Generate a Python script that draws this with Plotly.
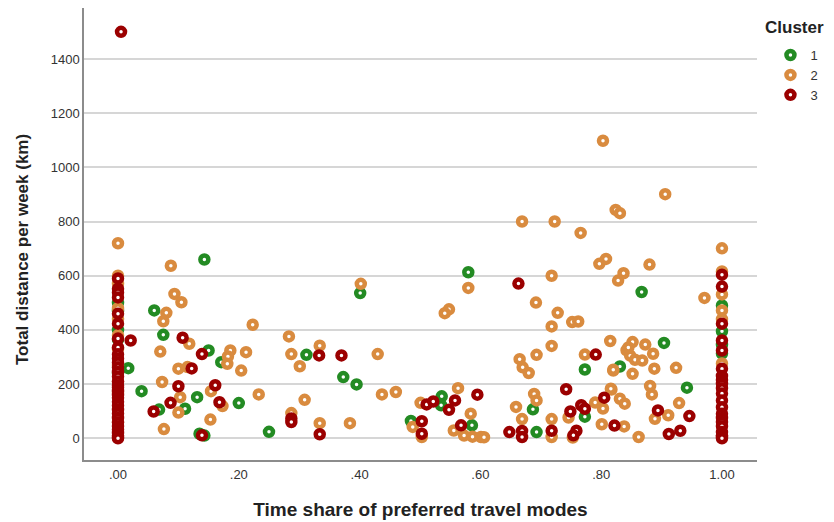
import plotly.graph_objects as go

# Cluster 1 (green)
c1_x = [0, 0, 0, 0, 0,
        0.017, 0.039, 0.060, 0.068, 0.075, 0.111, 0.131, 0.135, 0.143, 0.143, 0.150, 0.171, 0.200, 0.250,
        0.312, 0.373, 0.395, 0.401, 0.485, 0.536, 0.535, 0.580, 0.586,
        0.687, 0.693, 0.773, 0.773, 0.831, 0.867, 0.904, 0.942,
        1, 1, 1, 1]
c1_y = [500, 470, 400, 365, 240,
        259, 174, 472, 106, 382, 109, 152, 17, 10, 660, 324, 281, 130, 24,
        308, 226, 199, 536, 64, 155, 122, 613, 48,
        107, 23, 254, 80, 265, 540, 352, 187,
        490, 395, 345, 313]

# Cluster 2 (orange)
c2_x = [0, 0, 0, 0, 0, 0, 0, 0, 0, 0, 0,
        0.0875, 0.0935, 0.105, 0.080, 0.075, 0.223, 0.118, 0.070, 0.186, 0.182, 0.212, 0.181, 0.204,
        0.100, 0.115, 0.073, 0.154, 0.103, 0.233, 0.173, 0.100, 0.153, 0.076,
        0.402, 0.580, 0.548, 0.541, 0.283, 0.334, 0.287, 0.430, 0.301, 0.437, 0.460, 0.309, 0.287,
        0.334, 0.384, 0.501, 0.563, 0.584, 0.488, 0.503, 0.556, 0.573, 0.587, 0.601, 0.606,
        0.669, 0.723, 0.766, 0.824, 0.831, 0.797, 0.808, 0.718, 0.828, 0.837, 0.692, 0.728, 0.752,
        0.762, 0.718, 0.815, 0.718, 0.693, 0.773, 0.665, 0.670, 0.680, 0.820, 0.689, 0.693, 0.817,
        0.659, 0.790, 0.803, 0.831, 0.839, 0.669, 0.718, 0.746, 0.801, 0.718, 0.753, 0.838, 0.862,
        0.803, 0.906, 0.880, 0.971, 0.852, 0.873, 0.886, 0.842, 0.848, 0.856, 0.845, 0.868, 0.852,
        0.888, 0.924, 0.881, 0.884, 0.929, 0.889, 0.911, 0.816, 0.820,
        1, 1, 1, 1, 1, 1]
c2_y = [720, 600, 570, 480, 440, 380, 330, 270, 210, 170, 60,
        637, 533, 502, 463, 432, 419, 349, 320, 324, 302, 318, 275, 250,
        257, 263, 208, 174, 152, 162, 119, 95, 69, 34,
        570, 555, 476, 462, 376, 342, 311, 311, 266, 162, 171, 142, 93,
        56, 56, 131, 185, 91, 42, 5, 29, 10, 6, 5, 4,
        800, 800, 758, 843, 831, 644, 662, 600, 582, 609, 501, 463, 429,
        431, 413, 359, 341, 308, 309, 292, 262, 241, 250, 164, 140, 180,
        116, 132, 110, 146, 128, 71, 71, 77, 52, 5, 3, 44, 5,
        1098, 901, 641, 518, 355, 346, 312, 325, 305, 290, 335, 287, 238,
        257, 260, 193, 162, 130, 72, 85, 183, 253,
        701, 616, 531, 472, 440, 276]

# Cluster 3 (dark red)
c3_x = [0.005] + [0] * 32 + [
        0.021, 0.107, 0.139, 0.122, 0.100, 0.161, 0.087, 0.168, 0.059, 0.139,
        0.333, 0.370, 0.287, 0.287, 0.334, 0.511, 0.522, 0.558, 0.548, 0.595, 0.503, 0.503, 0.568,
        0.663, 0.742, 0.805, 0.767, 0.773, 0.749, 0.791, 0.822, 0.648, 0.669, 0.669, 0.718, 0.759,
        0.754, 0.894, 0.946, 0.912, 0.931] + [1] * 21
c3_y = [1500,
        590, 552, 538, 520, 460, 423, 368, 335, 310, 295, 280, 262, 245, 228, 210, 195,
        188, 175, 160, 150, 135, 121, 105, 92, 75, 59, 45, 33, 20, 10, 4, 0,
        361, 371, 311, 258, 192, 196, 131, 133, 99, 11,
        306, 306, 73, 60, 15, 125, 136, 140, 105, 161, 63, 17, 48,
        571, 181, 150, 122, 109, 99, 309, 47, 23, 27, 5, 28, 28,
        11, 103, 82, 16, 28,
        604, 560, 423, 361, 324, 257, 230, 215, 201, 185, 165, 140, 115, 91, 75, 60, 45, 23, 10, 5, 0]

clusters = ["1", "2", "3"]
colors = ["#238b23", "#d98b3f", "#9b0000"]

fig = go.Figure()
for name, xs, ys, col in zip(clusters, [c1_x, c2_x, c3_x], [c1_y, c2_y, c3_y], colors):
    fig.add_trace(go.Scatter(
        x=xs, y=ys, mode="markers", name=name,
        marker=dict(symbol="circle", size=8, color="white",
                    line=dict(color=col, width=4.5)),
    ))

tick_vals = [0, 0.2, 0.4, 0.6, 0.8, 1.0]
tick_text = [".00", ".20", ".40", ".60", ".80", "1.00"]

fig.update_layout(
    width=834, height=522,
    margin=dict(l=76, r=85, t=0, b=70, autoexpand=False),
    paper_bgcolor="white", plot_bgcolor="white",
    font=dict(family="Liberation Sans, Arial, sans-serif", size=13, color="#333333"),
    showlegend=True,
    legend=dict(
        x=1.02, xanchor="left", y=0.929, yanchor="top",
        font=dict(size=13, color="#333333"),
        tracegroupgap=0, itemwidth=30,
    ),
    annotations=[
        dict(text="<b>Cluster</b>", xref="paper", yref="paper", x=1.0089, y=0.9558,
             xanchor="left", yanchor="middle", showarrow=False,
             font=dict(size=17, color="#222222")),
        dict(text="<b>Total distance per week (km)</b>", xref="paper", yref="paper",
             x=0, y=0.4646, xshift=-62, textangle=-90, xanchor="center", yanchor="middle",
             showarrow=False, font=dict(size=17, color="#222222")),
    ],
    xaxis=dict(
        range=[-0.0563, 1.058], tickvals=tick_vals, ticktext=tick_text,
        showgrid=False, zeroline=False, showline=True, linecolor="#8c8c8c", linewidth=1.5,
        ticks="", ticklabelstandoff=2, automargin=False,
        title=dict(text="<b>Time share of preferred travel modes</b>",
                   font=dict(size=19, color="#222222"), standoff=21),
    ),
    yaxis=dict(
        range=[-80, 1588], tickvals=[0, 200, 400, 600, 800, 1000, 1200, 1400],
        showgrid=True, gridcolor="#d6d6d6", gridwidth=1.5, zeroline=False,
        showline=True, linecolor="#8c8c8c", linewidth=1.5, ticks="", automargin=False,
    ),
)

fig.write_html("out.html")
